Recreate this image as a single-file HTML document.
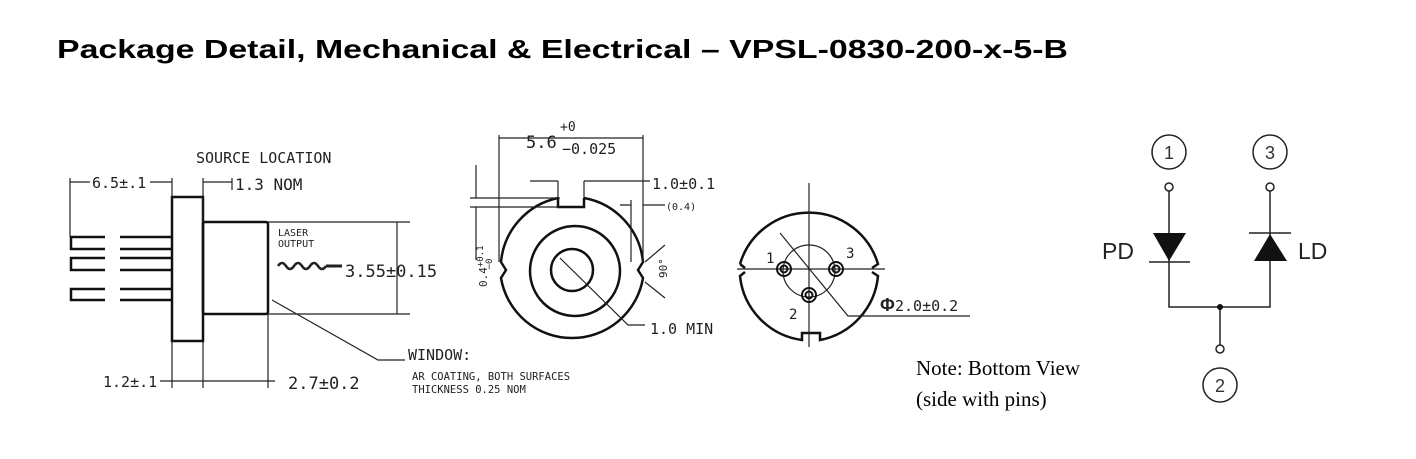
<!DOCTYPE html>
<html><head><meta charset="utf-8"><style>
html,body{margin:0;padding:0;background:#fff;width:1416px;height:459px;overflow:hidden}
svg{display:block}
.t{font-family:"DejaVu Sans Mono","Liberation Mono",monospace;fill:#222}
</style></head><body>
<svg width="1416" height="459" viewBox="0 0 1416 459" xmlns="http://www.w3.org/2000/svg">
<text x="57" y="58" font-family="Liberation Sans, sans-serif" font-weight="bold" font-size="26" textLength="1011" lengthAdjust="spacingAndGlyphs">Package Detail, Mechanical &amp; Electrical – VPSL-0830-200-x-5-B</text>

<!-- left side view -->
<g stroke="#111" fill="none" stroke-width="2.5">
<rect x="172" y="197" width="31" height="144"/>
<rect x="203" y="222" width="65" height="92" rx="2"/>
<path d="M105 237H71V249H105M120 237H172M120 249H172M105 258H71V270H105M120 258H172M120 270H172M105 289H71V300H105M120 289H172M120 300H172"/>
</g>
<g stroke="#222" fill="none" stroke-width="1.2">
<path d="M70 178V237M172 178V197M70 182H172M203 178V222M203 182H232M232 178V190"/>
<path d="M268 222H410M268 314H410M397 222V314"/>
<path d="M172 341V388M203 341V388M268 314V388M160 381H275"/>
<path d="M272 300L378 360H405"/>
<path d="M278 266q4 -6 8 0t8 0t8 0t8 0t8 0t8 0" stroke-width="2.5"/>
<path d="M326 266H342" stroke-width="3"/>
</g>
<text class="t" x="196" y="163" font-size="15">SOURCE LOCATION</text>
<rect x="90" y="174" width="60" height="16" fill="#fff"/>
<text class="t" x="92" y="188" font-size="15">6.5±.1</text>
<text class="t" x="235" y="190" font-size="16">1.3 NOM</text>
<text class="t" x="278" y="236" font-size="10">LASER</text>
<text class="t" x="278" y="247" font-size="10">OUTPUT</text>
<text class="t" x="345" y="277" font-size="17">3.55±0.15</text>
<text class="t" x="103" y="387" font-size="15">1.2±.1</text>
<text class="t" x="288" y="389" font-size="17">2.7±0.2</text>
<text class="t" x="408" y="360" font-size="15">WINDOW:</text>
<text class="t" x="412" y="380" font-size="10.5">AR COATING, BOTH SURFACES</text>
<text class="t" x="412" y="393" font-size="10.5">THICKNESS 0.25 NOM</text>

<!-- middle front view -->
<g stroke="#111" fill="none" stroke-width="2.5">
<path d="M558 198A72 72 0 0 0 501 262L506 270L501 278A72 72 0 0 0 643 278L638 270L643 262A72 72 0 0 0 584 198"/>
<path d="M558 198V207H584V198"/>
<circle cx="575" cy="271" r="45"/>
<circle cx="572" cy="270" r="21"/>
</g>
<g stroke="#222" fill="none" stroke-width="1.2">
<path d="M499 135V262M643 135V262M499 138H643"/>
<path d="M530 181H558M584 181H650M558 181V198M584 181V198"/>
<path d="M631 200V262M643 205H665M620 205H631"/>
<path d="M470 198H560M470 207H560M476 165V198M476 207V260"/>
<path d="M560 258L628 325H645"/>
<path d="M645 262L665 245M645 282L665 298"/>
</g>
<text class="t" x="526" y="148" font-size="17">5.6</text>
<text class="t" x="560" y="131" font-size="13">+0</text>
<text class="t" x="562" y="154" font-size="15">−0.025</text>
<text class="t" x="652" y="189" font-size="15">1.0±0.1</text>
<text class="t" x="666" y="210" font-size="10">(0.4)</text>
<text class="t" font-size="11" transform="translate(487,287) rotate(-90)">0.4<tspan dy="-4" font-size="9">+0.1</tspan><tspan dx="-24" dy="9" font-size="9">−0</tspan></text>
<text class="t" font-size="11" transform="translate(667,278) rotate(-90)">90°</text>
<text class="t" x="650" y="334" font-size="15">1.0 MIN</text>

<!-- right bottom view -->
<g stroke="#111" fill="none" stroke-width="2.5">
<path d="M740 264A72 72 0 0 1 878 264L872 268"/>
<path d="M740 264L745 268"/>
<path d="M745 272L740 276A72 72 0 0 0 802 340V333H820V340A72 72 0 0 0 878 276L872 272"/>
</g>
<g stroke="#222" fill="none" stroke-width="1.2">
<path d="M809 183V347M737 269H885"/>
<circle cx="809" cy="271" r="26"/>
<path d="M780 233L848 316H970"/>
</g>
<g stroke="#111" fill="none" stroke-width="2">
<circle cx="784" cy="269" r="7"/><circle cx="784" cy="269" r="3.5"/>
<circle cx="836" cy="269" r="7"/><circle cx="836" cy="269" r="3.5"/>
<circle cx="809" cy="295" r="7"/><circle cx="809" cy="295" r="3.5"/>
</g>
<text class="t" x="766" y="263" font-size="14">1</text>
<text class="t" x="846" y="258" font-size="14">3</text>
<text class="t" x="789" y="319" font-size="14">2</text>
<text x="880" y="311" font-family="Liberation Sans,sans-serif" font-size="18" font-weight="bold" fill="#222">Φ</text>
<text class="t" x="895" y="311" font-size="15">2.0±0.2</text>

<text x="916" y="375" font-family="Liberation Serif,serif" font-size="21">Note: Bottom View</text>
<text x="916" y="406" font-family="Liberation Serif,serif" font-size="21">(side with pins)</text>

<!-- schematic -->
<g stroke="#222" fill="none" stroke-width="1.5">
<circle cx="1169" cy="152" r="17"/>
<circle cx="1270" cy="152" r="17"/>
<circle cx="1220" cy="385" r="17"/>
<circle cx="1169" cy="187" r="4"/>
<circle cx="1270" cy="187" r="4"/>
<circle cx="1220" cy="349" r="4"/>
<path d="M1169 191V307H1270V191M1220 307V345M1149 262H1190M1249 233H1291"/>
</g>
<path d="M1153 233H1186L1169 261Z" fill="#111"/>
<path d="M1254 261H1287L1270 234Z" fill="#111"/>
<circle cx="1220" cy="307" r="3" fill="#111"/>
<g font-family="Liberation Sans,sans-serif" font-size="18" fill="#333" text-anchor="middle">
<text x="1169" y="159">1</text><text x="1270" y="159">3</text><text x="1220" y="392">2</text>
</g>
<text x="1102" y="259" font-family="Liberation Sans,sans-serif" font-size="23" fill="#222">PD</text>
<text x="1298" y="259" font-family="Liberation Sans,sans-serif" font-size="23" fill="#222">LD</text>
</svg>
</body></html>
